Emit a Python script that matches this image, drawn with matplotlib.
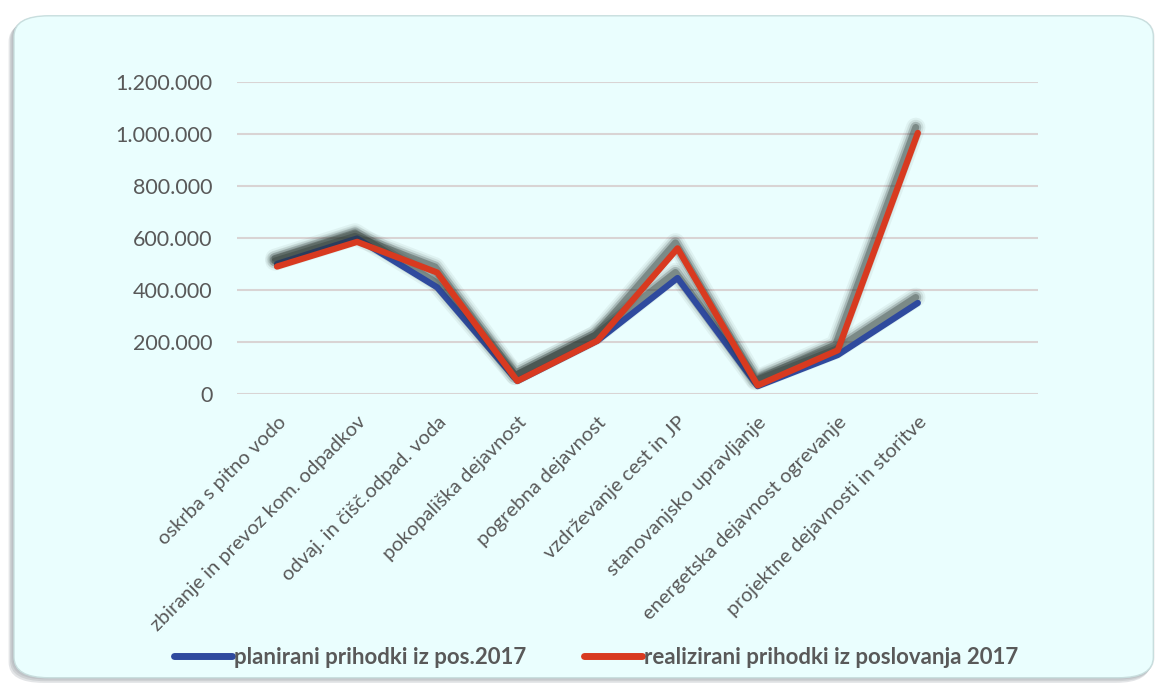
import matplotlib.pyplot as plt
import matplotlib.patheffects as pe
from matplotlib.patches import FancyBboxPatch
from matplotlib.ticker import FuncFormatter

categories = ["oskrba s pitno vodo", "zbiranje in prevoz kom. odpadkov",
              "odvaj. in čišč.odpad. voda", "pokopališka dejavnost",
              "pogrebna dejavnost", "vzdrževanje cest in JP",
              "stanovanjsko upravljanje", "energetska dejavnost ogrevanje",
              "projektne dejavnosti in storitve"]
planirani = [500000, 598000, 410000, 50000, 205000, 446000, 30000, 150000, 350000]
realizirani = [490000, 585000, 467000, 50000, 205000, 560000, 33000, 168000, 1004000]
yticks = [0, 200000, 400000, 600000, 800000, 1000000, 1200000]

gray = "#595959"
blue = "#2F4A9E"
red = "#D83A20"

fig = plt.figure(figsize=(11.65, 6.86), dpi=100)
fig.patch.set_facecolor("white")

# rounded panel with a soft shadow
for i, a in enumerate([0.10, 0.10, 0.12, 0.14]):
    sh = FancyBboxPatch((0.011 - 0.0012 * i, 0.012 - 0.0025 * i), 0.98, 0.965,
                        boxstyle="round,pad=0,rounding_size=0.03",
                        transform=fig.transFigure, facecolor="#3d4a55",
                        edgecolor="none", alpha=a, zorder=0)
    fig.patches.append(sh)
panel = FancyBboxPatch((0.012, 0.012), 0.978, 0.965,
                       boxstyle="round,pad=0,rounding_size=0.03",
                       transform=fig.transFigure, facecolor="#EAFEFE",
                       edgecolor="#c8dede", linewidth=1.0, zorder=1)
fig.patches.append(panel)

ax = fig.add_axes([0.2034, 0.4257, 0.6876, 0.4548])
ax.set_facecolor("none")
ax.set_zorder(2)

x = list(range(len(categories)))
shadow = [pe.SimpleLineShadow(offset=(-1.5, 4), shadow_color="#2a3530", alpha=0.06, linewidth=14),
          pe.SimpleLineShadow(offset=(-1.5, 4), shadow_color="#2a3530", alpha=0.10, linewidth=11),
          pe.SimpleLineShadow(offset=(-1.5, 4), shadow_color="#2a3530", alpha=0.22, linewidth=8),
          pe.SimpleLineShadow(offset=(-1.5, 4), shadow_color="#2a3530", alpha=0.35, linewidth=5),
          pe.Normal()]
ax.plot(x, planirani, color=blue, lw=4.5, solid_capstyle="round",
        path_effects=shadow, label="planirani prihodki iz pos.2017", zorder=3)
ax.plot(x, realizirani, color=red, lw=4.5, solid_capstyle="round",
        path_effects=shadow, label="realizirani prihodki iz poslovanja 2017", zorder=4)

ax.set_xlim(-0.5, 9.5)
ax.set_ylim(0, 1200000)
ax.set_yticks(yticks)
ax.yaxis.set_major_formatter(FuncFormatter(lambda v, p: "{:,.0f}".format(v).replace(",", ".")))
ax.grid(axis="y", color="#D9D4D4", lw=1.5)
ax.set_axisbelow(True)
for s in ax.spines.values():
    s.set_visible(False)
ax.tick_params(axis="y", length=0, pad=17.5, labelsize=15.5, labelcolor=gray)
ax.tick_params(axis="x", length=0, pad=14)
ax.set_xticks(x)
ax.set_xticklabels(categories, rotation=45, ha="right", va="top",
                   rotation_mode="anchor", fontsize=14.5, color=gray)
for t in ax.get_xticklabels() + ax.get_yticklabels():
    t.set_family(["Lato", "DejaVu Sans"])

leg = fig.legend(loc="center", bbox_to_anchor=(0.512, 0.042), ncol=2, frameon=False,
                 handlelength=2.6, handletextpad=0.1, columnspacing=2.6,
                 prop={"family": ["Lato", "DejaVu Sans"],
                       "weight": "bold", "size": 16})
for t in leg.get_texts():
    t.set_color(gray)
for h in leg.legend_handles:
    h.set_path_effects([])
    h.set_linewidth(5)

fig.savefig("out.png", dpi=100)
